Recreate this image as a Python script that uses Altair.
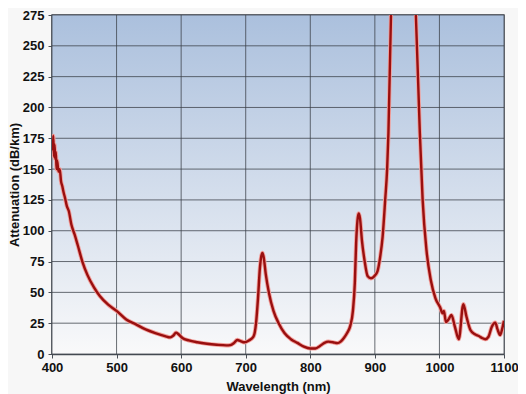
import altair as alt
import pandas as pd

wavelength = [401, 402, 403, 404, 405, 406, 407, 408, 410, 412, 414, 416, 418, 420, 423, 426,
              430, 435, 440, 447, 455, 465, 474, 487, 500, 515, 530, 545, 560, 575, 583, 588,
              592, 596, 602, 612, 625, 640, 655, 670, 676, 682, 687, 692, 698, 705, 712, 716,
              719, 722, 724, 726, 728, 731, 736, 743, 751, 760, 770, 780, 790, 800, 808, 815,
              822, 828, 835, 842, 847, 852, 857, 862, 866, 869, 871, 873, 875, 877, 880, 884,
              889, 894, 899, 904, 908, 912, 916, 919, 921, 925, 932, 945, 955, 963.5, 969.7,
              974, 980, 986.6, 994, 1001, 1005, 1007, 1010, 1014, 1018.5, 1024, 1030, 1037,
              1042, 1048, 1055, 1061, 1066, 1071, 1076, 1081, 1086.5, 1090, 1094, 1097, 1100]
attenuation = [165, 177, 160, 170, 158, 164, 150, 157, 148, 150, 140, 136, 131, 127, 120, 116,
               105, 97, 88, 75, 64, 54, 47, 40, 35, 28, 24, 20, 17, 14.5, 13.5, 15,
               17.3, 16, 13, 11, 9.5, 8.3, 7.5, 7, 7.2, 9, 11.4, 10.5, 9.5, 11, 14, 25,
               45, 70, 79, 82, 78, 65, 49.5, 35, 25, 17, 12, 9, 6, 4.5, 4.5, 6.5,
               9, 10, 9.5, 8.8, 10, 13, 17, 23, 35, 58, 90, 108, 114, 110, 92, 76,
               63, 61.4, 63, 67, 78, 95, 125, 150, 179, 275, 340, 400, 350, 275, 179,
               125, 84, 60, 45, 38, 33, 35, 26, 28, 31.6, 22, 12, 40.5,
               30, 19.5, 16, 14.6, 13, 12, 14, 22, 25.4, 20, 15.4, 20, 27]

x_ticks = [400, 500, 600, 700, 800, 900, 1000, 1100]
y_ticks = [0, 25, 50, 75, 100, 125, 150, 175, 200, 225, 250, 275]

W, H = 452, 339

df = pd.DataFrame({"wl": wavelength, "att": attenuation})
xg = pd.DataFrame({"wl": x_ticks})
yg = pd.DataFrame({"att": y_ticks})

font = "Liberation Sans"

xscale = alt.Scale(domain=[400, 1100], nice=False)
yscale = alt.Scale(domain=[0, 275], nice=False)

x_axis = alt.Axis(values=x_ticks, title="Wavelength (nm)", format="d",
                  labelOverlap=False, labelFlush=False)
y_axis = alt.Axis(values=y_ticks, title="Attenuation (dB/km)", format="d",
                  labelOverlap=False, labelFlush=False,
                  titleX=-37.5, titleY=H / 2, titleBaseline="middle",
                  titleAlign="center", titleAngle=270)

x = alt.X("wl:Q", scale=xscale, axis=x_axis)
y = alt.Y("att:Q", scale=yscale, axis=y_axis)

gradient = alt.LinearGradient(
    gradient="linear", x1=0, y1=0, x2=0, y2=1,
    stops=[alt.GradientStop(offset=0, color="#abc0dd"),
           alt.GradientStop(offset=1, color="#f9f9fa")])

bg = alt.Chart(pd.DataFrame({"k": [0]})).mark_rect(color=gradient).encode(
    x=alt.value(0), x2=alt.value(W), y=alt.value(0), y2=alt.value(H))

vgrid = alt.Chart(xg).mark_rule(color="#3a3f47", strokeWidth=0.9, opacity=0.85).encode(
    x=x, y=alt.value(0), y2=alt.value(H))
hgrid = alt.Chart(yg).mark_rule(color="#3a3f47", strokeWidth=0.9, opacity=0.85).encode(
    y=y, x=alt.value(0), x2=alt.value(W))

halo = alt.Chart(df).mark_line(color="#f2a09c", strokeWidth=4.2, clip=True,
                               interpolate="monotone").encode(x=x, y=y)
line = alt.Chart(df).mark_line(color="#990f0f", strokeWidth=2.4, clip=True,
                               interpolate="monotone").encode(x=x, y=y)

chart = alt.layer(bg, vgrid, hgrid, halo, line).properties(
    width=W, height=H,
    autosize=alt.AutoSizeParams(type="none"),
    padding={"left": 44, "top": 7, "right": 14, "bottom": 40},
    background="#f7f7f7",
).configure_view(
    stroke="#4a4f57", strokeWidth=1.5,
).configure_axis(
    grid=False,
    domainColor="#4a4f57", domainWidth=1.5,
    tickColor="#4a4f57", tickSize=4,
    labelFont=font, labelFontSize=13, labelFontWeight="bold", labelColor="#111",
    titleFont=font, titleFontSize=13, titleFontWeight="bold", titleColor="#111",
    labelPadding=3,
).configure_axisY(labelPadding=4).configure_axisX(titlePadding=6)

chart.save("out.html", embed_options={"renderer": "svg", "actions": False})
